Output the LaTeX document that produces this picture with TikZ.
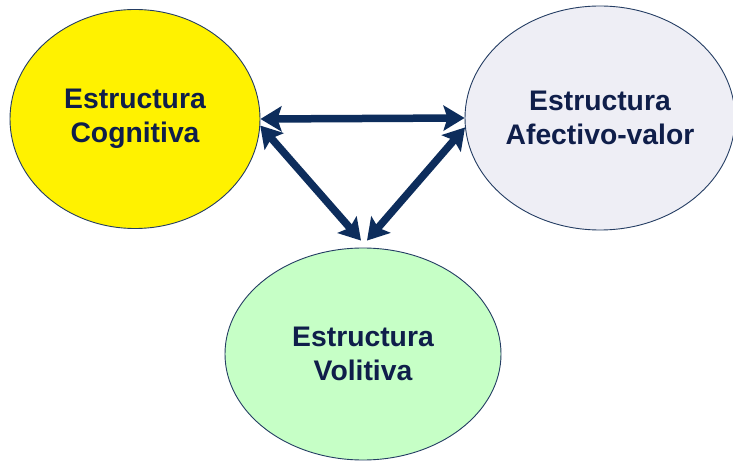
\documentclass[tikz,border=0pt]{standalone}
\usepackage{fontspec}
\setmainfont{Liberation Sans}
\usetikzlibrary{arrows.meta}
\usepgflibrary{shapes.geometric}

\definecolor{navy}{HTML}{0D2D5C}
\definecolor{txtblue}{HTML}{0F1E4A}
\definecolor{lavgray}{HTML}{EEEEF5}
\definecolor{mint}{HTML}{C6FFC6}

\begin{document}
\begin{tikzpicture}[x=1pt,y=-1pt,
    estr/.style={ellipse,draw=navy!80!gray,line width=0.9pt,inner sep=0pt,
      align=center,text=txtblue,font=\fontsize{28.3}{34.5}\selectfont\bfseries},
    biarrow/.style={{Stealth[length=21pt,width=25pt,inset=4pt]}-{Stealth[length=21pt,width=25pt,inset=4pt]},
      line width=7.5pt,draw=navy}]
      \useasboundingbox[fill=white] (0,0) rectangle (733,462);
      \node[estr,fill=yellow,minimum width=250pt,minimum height=219pt] (cog) at (135,119) {Estructura\\Cognitiva};
      \node[estr,fill=lavgray,minimum width=270pt,minimum height=224pt] (afe) at (600,118) {Estructura\\Afectivo-valor};
      \node[estr,fill=mint,minimum width=276pt,minimum height=212pt] (vol) at (363,354) {Estructura\\Volitiva};
      \draw[biarrow] (cog.east) -- (afe.west);
      \draw[biarrow] (cog.-3) -- ([xshift=-2pt,yshift=7pt]vol.north);
      \draw[biarrow] (afe.184) -- ([xshift=4pt,yshift=7pt]vol.north);
    \end{tikzpicture}
\end{document}
